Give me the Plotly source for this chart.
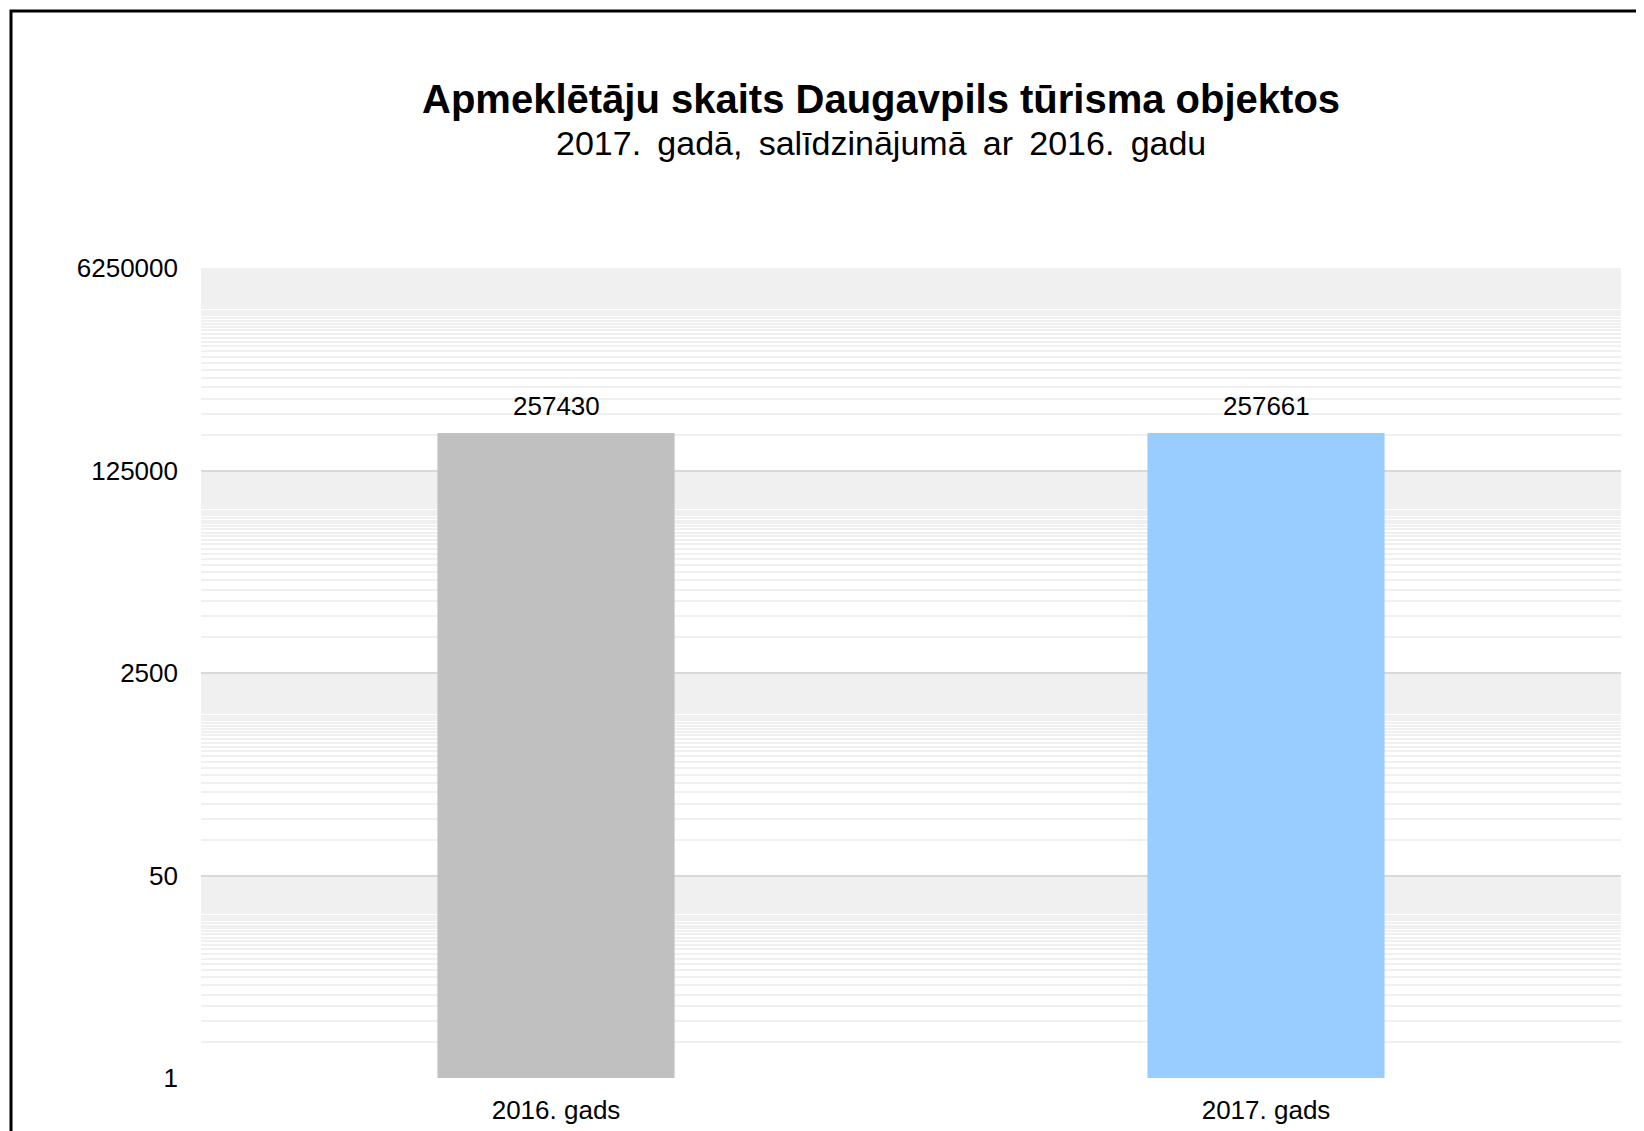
import math
import plotly.graph_objects as go

categories = ["2016. gads", "2017. gads"]
values = [257430, 257661]
bar_colors = ["#C0C0C0", "#99CCFF"]
tick_values = [1, 50, 2500, 125000, 6250000]
tick_labels = ["1", "50", "2500", "125000", "6250000"]
title_text = "Apmeklētāju skaits Daugavpils tūrisma objektos"
subtitle_text = "2017. gadā, salīdzinājumā ar 2016. gadu"

W, H = 1644, 1131
OFF = 8  # page body offset
ML, MR, MT, MB = 201 - OFF, 31, 268 - OFF, 61
PW, PH = W - ML - MR, H - MT - MB

def px_x(p):
    return (p - OFF - ML) / PW

def px_y(p):
    return (H - MB - (p - OFF)) / PH

# minor gridlines at k * 50^n (log base 50 axis, as in the source)
minor_vals = [k * 50 ** n for n in range(4) for k in range(2, 50)]

FONT = "Arial, Liberation Sans, sans-serif"

fig = go.Figure()
fig.add_trace(go.Bar(
    x=categories, y=values, marker=dict(color=bar_colors, line=dict(width=0)),
    width=0.334, hoverinfo="x+y",
))

for c, v in zip(categories, values):
    fig.add_annotation(x=c, y=math.log10(v), text=str(v), showarrow=False,
                       yanchor="bottom", yshift=10,
                       font=dict(family=FONT, size=26, color="#000000"))

fig.add_annotation(xref="paper", yref="paper", x=px_x(881), y=px_y(99),
                   text="<b>" + title_text + "</b>", showarrow=False,
                   xanchor="center", yanchor="middle",
                   font=dict(family=FONT, size=40, color="#000000"))
fig.add_annotation(xref="paper", yref="paper", x=px_x(881), y=px_y(143),
                   text=subtitle_text.replace(" ", "&nbsp;&#8201;"), showarrow=False,
                   xanchor="center", yanchor="middle",
                   font=dict(family=FONT, size=34, color="#000000"))

# outer chart frame (cropped at right and bottom in the source)
fig.add_shape(type="rect", xref="paper", yref="paper",
              x0=px_x(11), x1=px_x(W + 40), y0=px_y(H + 40), y1=px_y(11),
              line=dict(color="#000000", width=3), fillcolor="rgba(0,0,0,0)",
              layer="above")

fig.update_layout(
    width=W, height=H,
    margin=dict(l=ML, r=MR, t=MT, b=MB, pad=0),
    paper_bgcolor="#FFFFFF", plot_bgcolor="#FFFFFF",
    showlegend=False,
    font=dict(family=FONT, size=26, color="#000000"),
    xaxis=dict(showgrid=False, showline=False, ticks="", zeroline=False,
               ticklabelstandoff=14,
               tickfont=dict(family=FONT, size=26, color="#000000")),
    yaxis=dict(type="log", range=[0, math.log10(6250000)],
               tickmode="array", tickvals=tick_values, ticktext=tick_labels,
               showgrid=True, gridcolor="#D9D9D9", gridwidth=2,
               showline=False, zeroline=False, ticks="",
               ticklabelstandoff=22,
               tickfont=dict(family=FONT, size=26, color="#000000"),
               minor=dict(tickmode="array", tickvals=minor_vals,
                          showgrid=True, gridcolor="#F0F0F0", gridwidth=1.5,
                          ticks="")),
)

fig.write_html("out.html")
